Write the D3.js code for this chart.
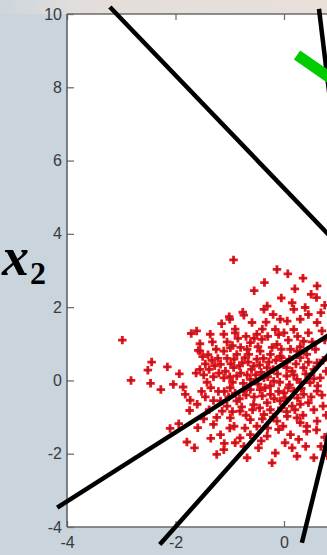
<!DOCTYPE html>
<html>
<head>
<meta charset="utf-8">
<script src="https://cdn.jsdelivr.net/npm/d3@7"></script>
<style>
  body { margin: 0; background: #c9d4dc; }
  svg { display: block; }
  .tick text { font-family: "Liberation Sans", Arial, sans-serif; font-size: 16px; fill: #3a3a3a; }
</style>
</head>
<body>
<div id="chart"></div>
<script>
var svgWidth = 327;
var svgHeight = 555;

// axis ticks
var xTicks = [-4, -2, 0];
var yTicks = [-4, -2, 0, 2, 4, 6, 8, 10];

// scatter samples [x1, x2]
var scatterPts = [
  [-2.98, 1.10], [-2.82, 0.00], [-2.44, 0.50], [-2.51, 0.28], [-2.46, -0.08], [-2.27, -0.25],
  [-2.15, 0.37], [-2.04, -0.11], [-1.71, 1.28], [-1.93, 0.18], [-1.86, -0.18], [-1.82, -0.38],
  [-1.73, -0.54], [-1.74, -0.82], [-2.10, -1.31], [-1.94, -1.18], [-1.59, -1.29], [-1.79, -1.68],
  [-1.65, -1.84], [-1.58, 0.82], [-1.36, 1.26], [-1.35, -1.58], [-1.24, -2.02], [-1.24, -1.01],
  [-1.61, 1.35], [-1.55, 0.80], [-1.10, -1.72], [-1.00, 1.67], [-0.76, 1.86],
  [-1.50, 0.65], [-1.45, 0.45], [-1.40, 0.70], [-1.38, 0.30], [-1.33, 0.55], [-1.30, 0.10],
  [-1.48, 0.15], [-1.55, 0.30], [-1.62, 0.20], [-1.42, -0.05], [-1.35, -0.20], [-1.28, 0.40],
  [-1.25, 0.85], [-1.52, -0.30], [-1.45, -0.45], [-1.30, -0.55], [-1.60, -0.65], [-1.38, -0.80],
  [-1.48, -1.05], [-1.30, -1.20], [-1.55, 1.00], [-1.32, 1.05], [-1.22, 0.60], [-1.20, 0.20],
  [-1.21, -0.30],
  [-0.93, 3.29], [-0.13, 3.03], [0.07, 2.91], [0.35, 2.79], [-0.36, 2.67], [0.61, 2.58],
  [0.60, 2.26], [-0.31, 2.03], [-0.37, 1.94], [0.15, 2.12], [0.18, 1.94], [0.39, 1.99],
  [-1.01, 1.74], [-0.74, 1.78], [-0.59, 1.58], [-0.33, 1.59], [-0.07, 1.67], [0.06, 1.62],
  [0.30, 1.67], [0.61, 1.58], [-1.11, 1.26], [-0.90, 1.30], [-0.50, 1.26], [-0.41, 1.12],
  [-0.16, 1.39], [0.00, 1.30], [0.18, 1.39], [0.45, 1.30], [0.70, 1.35], [-0.62, 1.03],
  [-0.13, 0.98], [0.36, 1.07],
  [-1.11, 0.80], [-0.99, 0.89], [-0.87, 0.71], [-0.65, 0.71], [-0.44, 0.80], [-0.25, 0.71],
  [-0.07, 0.66], [0.24, 0.80], [0.42, 0.71], [-1.17, 0.44], [-0.93, 0.35], [-0.77, 0.48],
  [-0.56, 0.39], [-0.31, 0.35], [0.00, 0.44], [0.15, 0.25], [0.36, 0.35], [0.61, 0.48],
  [-1.11, 0.07], [-0.87, 0.12], [-0.62, 0.03], [-0.37, 0.07], [-0.19, -0.02], [0.24, 0.03],
  [0.48, -0.06], [0.67, 0.07], [-0.99, -0.20], [-0.74, -0.29], [-0.44, -0.25], [-0.25, -0.38],
  [0.00, -0.34], [0.18, -0.29], [0.36, -0.38], [0.61, -0.29], [-1.17, -0.56], [-0.87, -0.56],
  [-0.56, -0.66], [-0.31, -0.61], [-0.07, -0.56], [0.15, -0.70], [0.45, -0.61], [-1.14, -0.84],
  [-0.99, -1.02], [-0.81, -0.84], [-0.62, -1.07], [-0.37, -0.93], [-0.13, -1.11], [0.06, -0.98],
  [0.24, -1.02], [0.42, -1.25], [0.61, -1.11], [-1.17, -1.48], [-0.81, -1.57], [-0.62, -1.48],
  [-0.31, -1.52], [-0.10, -1.34], [0.12, -1.48], [0.27, -1.61], [0.42, -1.39], [-1.11, -1.89],
  [-0.74, -1.80], [-0.47, -1.84], [-0.16, -1.98], [0.15, -1.84], [0.55, -2.11], [-0.68, -2.11],
  [-0.22, -2.25], [0.24, -2.07],
  [-1.05, 1.05], [-0.95, 0.95], [-0.85, 1.15], [-0.80, 0.90], [-0.70, 1.20], [-0.68, 0.85],
  [-0.55, 1.15], [-0.48, 0.92], [-0.40, 1.40], [-0.30, 1.20], [-0.22, 0.90], [-0.10, 1.25],
  [-0.05, 0.85], [0.08, 1.10], [0.12, 0.85], [0.25, 1.20], [0.30, 0.92], [0.52, 1.05],
  [0.58, 0.85], [0.75, 1.10],
  [-1.05, 0.60], [-0.98, 0.45], [-0.92, 0.58], [-0.82, 0.40], [-0.72, 0.62], [-0.66, 0.50],
  [-0.60, 0.30], [-0.50, 0.58], [-0.45, 0.42], [-0.38, 0.60], [-0.28, 0.50], [-0.20, 0.30],
  [-0.15, 0.55], [-0.05, 0.62], [0.05, 0.35], [0.10, 0.58], [0.22, 0.45], [0.30, 0.62],
  [0.45, 0.50], [0.55, 0.30], [0.72, 0.55],
  [-1.08, 0.25], [-1.00, 0.10], [-0.95, -0.05], [-0.80, 0.20], [-0.75, -0.08], [-0.68, 0.15],
  [-0.52, 0.15], [-0.48, -0.10], [-0.42, 0.22], [-0.30, 0.10], [-0.25, -0.15], [-0.12, 0.18],
  [-0.08, -0.05], [0.05, 0.12], [0.10, -0.12], [0.18, 0.15], [0.30, -0.05], [0.40, 0.18],
  [0.55, 0.05], [0.62, -0.15], [0.78, 0.25],
  [-1.10, -0.30], [-1.02, -0.45], [-0.90, -0.35], [-0.82, -0.50], [-0.70, -0.40], [-0.62, -0.25],
  [-0.55, -0.45], [-0.40, -0.42], [-0.35, -0.20], [-0.18, -0.50], [-0.10, -0.30], [0.02, -0.48],
  [0.08, -0.20], [0.25, -0.48], [0.32, -0.22], [0.50, -0.45], [0.70, -0.40],
  [-1.05, -0.70], [-0.95, -0.85], [-0.78, -0.72], [-0.70, -0.95], [-0.58, -0.80], [-0.45, -0.75],
  [-0.40, -1.05], [-0.25, -0.80], [-0.20, -1.00], [-0.05, -0.75], [0.05, -0.85], [0.20, -0.80],
  [0.30, -0.65], [0.35, -0.95], [0.55, -0.80], [0.72, -0.70], [0.78, -0.95],
  [-0.92, -1.25], [-0.72, -1.30], [-0.50, -1.25], [-0.30, -1.30], [-0.02, -1.25], [0.30, -1.15],
  [0.60, -1.35], [0.75, -1.55], [0.68, -1.80], [0.40, -1.80], [-0.90, -1.70], [-0.42, -1.65],
  [0.02, -1.70], [-1.00, -1.30], [0.80, -2.05], [0.68, 1.85], [0.75, 2.05], [0.50, 2.35],
  [-0.05, 2.25], [-0.55, 2.45], [0.20, 2.50], [-0.20, 1.80], [0.45, 1.80], [-0.90, 1.40],
  [-1.15, 1.55]
];

// black projection lines [xa, ya, xb, yb]
var blackLines = [
  [-3.21, 10.19, 1.10, 3.55],
  [-4.18, -3.47, 1.10, 1.50],
  [-2.29, -4.48, 1.00, 1.00],
  [0.33, -4.43, 0.95, -0.70],
  [0.645, 10.14, 0.87, 7.40]
];
// green arrow shaft
var greenLine = [0.24, 8.88, 1.10, 8.00];

var svg = d3.select("#chart")
  .append("svg")
  .attr("width", svgWidth)
  .attr("height", svgHeight);

var defs = svg.append("defs");
var grad = defs.append("linearGradient").attr("id", "topband");
grad.append("stop").attr("offset", "0%").attr("stop-color", "#cdd6dc");
grad.append("stop").attr("offset", "25%").attr("stop-color", "#e3dedb");
grad.append("stop").attr("offset", "100%").attr("stop-color", "#e8dfd9");

svg.append("rect").attr("width", svgWidth).attr("height", svgHeight).attr("fill", "#c9d4dc");
svg.append("rect").attr("width", svgWidth).attr("height", 14).attr("fill", "url(#topband)");

var x = d3.scaleLinear().domain([-4, 0]).range([67, 284]);
var y = d3.scaleLinear().domain([-4, 10]).range([527, 14]);

// plot area
svg.append("rect")
  .attr("x", x(-4)).attr("y", y(10))
  .attr("width", svgWidth - x(-4) + 5).attr("height", y(-4) - y(10))
  .attr("fill", "#ffffff");

// axes, ticks inside
var fmt = d => String(d);
var leftAxis = d3.axisLeft(y).tickValues(yTicks).tickFormat(fmt).tickSize(-7).tickSizeOuter(0).tickPadding(5);
var bottomAxis = d3.axisBottom(x).tickValues(xTicks).tickFormat(fmt).tickSize(-6).tickSizeOuter(0).tickPadding(10);
var topAxis = d3.axisTop(x).tickValues(xTicks).tickSize(-6).tickSizeOuter(0).tickFormat("");

svg.append("g")
  .attr("transform", `translate(${x(-4)}, 0)`)
  .call(leftAxis);

svg.append("g")
  .attr("transform", `translate(0, ${y(-4)})`)
  .call(bottomAxis);

svg.append("g")
  .attr("transform", `translate(0, ${y(10)})`)
  .call(topAxis);

svg.selectAll(".domain").remove();
svg.selectAll(".tick line").attr("stroke", "#707070").attr("stroke-width", 1.3);

// box lines
svg.append("line")
  .attr("x1", x(-4)).attr("x2", svgWidth).attr("y1", y(10)).attr("y2", y(10))
  .attr("stroke", "#6a6a6a").attr("stroke-width", 1.5);
svg.append("line")
  .attr("x1", x(-4)).attr("x2", svgWidth).attr("y1", y(-4)).attr("y2", y(-4))
  .attr("stroke", "#6a6a6a").attr("stroke-width", 1.5);
svg.append("line")
  .attr("x1", x(-4)).attr("x2", x(-4)).attr("y1", y(10)).attr("y2", y(-4))
  .attr("stroke", "#5a5a5a").attr("stroke-width", 1.5);

// scatter points: red halo + dark core
var pts = svg.append("g");
pts.selectAll("path")
  .data(scatterPts)
  .enter()
  .append("path")
  .attr("d", d3.symbol().type(d3.symbolCross).size(40))
  .attr("transform", d => `translate(${x(d[0])}, ${y(d[1])})`)
  .attr("fill", "#ee1414");
pts.selectAll("circle")
  .data(scatterPts)
  .enter()
  .append("circle")
  .attr("cx", d => x(d[0]))
  .attr("cy", d => y(d[1]))
  .attr("r", 1.6)
  .attr("fill", "#9a1f3c");

// black lines
svg.append("g").selectAll("line")
  .data(blackLines)
  .enter()
  .append("line")
  .attr("x1", d => x(d[0])).attr("y1", d => y(d[1]))
  .attr("x2", d => x(d[2])).attr("y2", d => y(d[3]))
  .attr("stroke", "#000")
  .attr("stroke-width", 4.5);

// green arrow
svg.append("line")
  .attr("x1", x(greenLine[0])).attr("y1", y(greenLine[1]))
  .attr("x2", x(greenLine[2])).attr("y2", y(greenLine[3]))
  .attr("stroke", "#00cc00")
  .attr("stroke-width", 11);

// x2 label
var lab = svg.append("text")
  .attr("x", 2).attr("y", 275)
  .attr("font-family", "'Liberation Serif', 'DejaVu Serif', serif")
  .attr("font-style", "italic")
  .attr("font-weight", "bold")
  .attr("fill", "#000");
lab.append("tspan").attr("font-size", 54).text("x");
lab.append("tspan").attr("font-size", 32).attr("font-style", "normal").attr("dy", 9).attr("dx", 1).text("2");
</script>
</body>
</html>
